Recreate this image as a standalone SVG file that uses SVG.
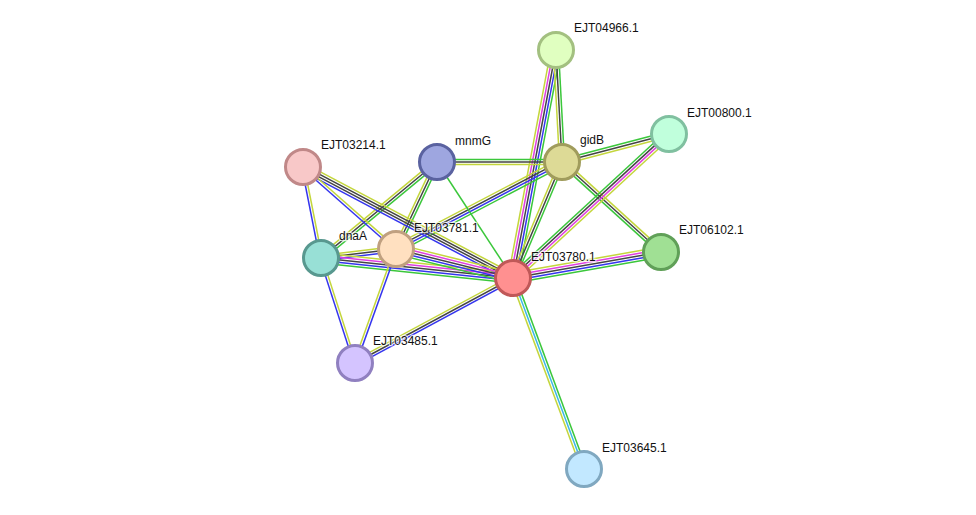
<svg xmlns="http://www.w3.org/2000/svg" width="976" height="515" viewBox="0 0 976 515">
<style>
#edges line{stroke-width:1.5;fill:none}
.g{stroke:#3bc73b}.b{stroke:#3535ee}.k{stroke:#444}.m{stroke:#e040e0}.y{stroke:#c4d63c}.c{stroke:#3bb8e6}
.node circle{stroke-width:3}
.node text{font-family:"Liberation Sans",Arial,sans-serif;font-size:12px;fill:#111;stroke:#fff;stroke-width:2.5;stroke-opacity:0.7;paint-order:stroke}
</style>
<rect width="976" height="515" fill="#fff"/>
<g id="edges">
<g transform="translate(556,50) rotate(100.68)"><line class="g" x2="232" y1="-5" y2="-5"/><line class="b" x2="232" y1="-2.5" y2="-2.5"/><line class="k" x2="232"/><line class="m" x2="232" y1="2.5" y2="2.5"/><line class="y" x2="232" y1="5" y2="5"/></g>
<g transform="translate(556,50) rotate(86.93)"><line class="g" x2="112.2" y1="-2.5" y2="-2.5"/><line class="k" x2="112.2"/><line class="y" x2="112.2" y1="2.5" y2="2.5"/></g>
<g transform="translate(437,162)"><line class="g" x2="125" y1="-2.5" y2="-2.5"/><line class="k" x2="125"/><line class="y" x2="125" y1="2.5" y2="2.5"/></g>
<g transform="translate(562,162) rotate(-14.67)"><line class="g" x2="110.6" y1="-2.5" y2="-2.5"/><line class="k" x2="110.6"/><line class="y" x2="110.6" y1="2.5" y2="2.5"/></g>
<g transform="translate(562,162) rotate(42.27)"><line class="y" x2="133.8" y1="-2.5" y2="-2.5"/><line class="k" x2="133.8"/><line class="g" x2="133.8" y1="2.5" y2="2.5"/></g>
<g transform="translate(669,134) rotate(137.29)"><line class="g" x2="212.3" y1="3.75" y2="3.75"/><line class="k" x2="212.3" y1="1.25" y2="1.25"/><line class="m" x2="212.3" y1="-1.25" y2="-1.25"/><line class="y" x2="212.3" y1="-3.75" y2="-3.75"/></g>
<g transform="translate(661,252) rotate(170.04)"><line class="g" x2="150.3" y1="-5" y2="-5"/><line class="b" x2="150.3" y1="-2.5" y2="-2.5"/><line class="k" x2="150.3"/><line class="m" x2="150.3" y1="2.5" y2="2.5"/><line class="y" x2="150.3" y1="5" y2="5"/></g>
<g transform="translate(562,162) rotate(112.9)"><line class="g" x2="125.9" y1="-2.5" y2="-2.5"/><line class="k" x2="125.9"/><line class="y" x2="125.9" y1="2.5" y2="2.5"/></g>
<g transform="translate(562,162) rotate(152.34)"><line class="g" x2="187.4" y1="-3.75" y2="-3.75"/><line class="b" x2="187.4" y1="-1.25" y2="-1.25"/><line class="k" x2="187.4" y1="1.25" y2="1.25"/><line class="y" x2="187.4" y1="3.75" y2="3.75"/></g>
<line class="g" x1="437" y1="162" x2="513" y2="278"/>
<g transform="translate(437,162) rotate(140.39)"><line class="g" x2="150.6" y1="-2.5" y2="-2.5"/><line class="k" x2="150.6"/><line class="y" x2="150.6" y1="2.5" y2="2.5"/></g>
<g transform="translate(437,162) rotate(115.24)"><line class="g" x2="96.2" y1="-2.5" y2="-2.5"/><line class="k" x2="96.2"/><line class="y" x2="96.2" y1="2.5" y2="2.5"/></g>
<g transform="translate(303,167) rotate(78.81)"><line class="y" x2="92.8" y1="-1.25" y2="-1.25"/><line class="b" x2="92.8" y1="1.25" y2="1.25"/></g>
<g transform="translate(303,167) rotate(27.86)"><line class="y" x2="237.5" y1="-3.75" y2="-3.75"/><line class="k" x2="237.5" y1="-1.25" y2="-1.25"/><line class="k" x2="237.5" y1="1.25" y2="1.25"/><line class="b" x2="237.5" y1="3.75" y2="3.75"/></g>
<g transform="translate(303,167) rotate(41.4)"><line class="y" x2="124" y1="-1.25" y2="-1.25"/><line class="b" x2="124" y1="1.25" y2="1.25"/></g>
<g transform="translate(321,258) rotate(-6.84)"><line class="y" x2="75.5" y1="-2.5" y2="-2.5"/><line class="k" x2="75.5"/><line class="b" x2="75.5" y1="2.5" y2="2.5"/></g>
<g transform="translate(321,258) rotate(5.95)"><line class="y" x2="193" y1="-5" y2="-5"/><line class="m" x2="193" y1="-2.5" y2="-2.5"/><line class="k" x2="193"/><line class="b" x2="193" y1="2.5" y2="2.5"/><line class="g" x2="193" y1="5" y2="5"/></g>
<g transform="translate(396,249) rotate(13.92)"><line class="y" x2="120.5" y1="-5" y2="-5"/><line class="m" x2="120.5" y1="-2.5" y2="-2.5"/><line class="k" x2="120.5"/><line class="b" x2="120.5" y1="2.5" y2="2.5"/><line class="g" x2="120.5" y1="5" y2="5"/></g>
<g transform="translate(321,258) rotate(72.06)"><line class="y" x2="110.4" y1="-1.25" y2="-1.25"/><line class="b" x2="110.4" y1="1.25" y2="1.25"/></g>
<g transform="translate(396,249) rotate(109.78)"><line class="b" x2="121.1" y1="-1.25" y2="-1.25"/><line class="y" x2="121.1" y1="1.25" y2="1.25"/></g>
<g transform="translate(355,363) rotate(-28.28)"><line class="y" x2="179.4" y1="-2.5" y2="-2.5"/><line class="k" x2="179.4"/><line class="b" x2="179.4" y1="2.5" y2="2.5"/></g>
<g transform="translate(513,278) rotate(69.61)"><line class="g" x2="203.8" y1="-2.5" y2="-2.5"/><line class="c" x2="203.8"/><line class="y" x2="203.8" y1="2.5" y2="2.5"/></g>
</g>
<g id="n-EJT04966" class="node"><circle cx="556" cy="50" r="17.5" fill="#e0ffc0" stroke="#a3c080"/><text x="574" y="32">EJT04966.1</text></g>
<g id="n-EJT00800" class="node"><circle cx="669" cy="134" r="17.5" fill="#c0ffdc" stroke="#80c0a0"/><text x="687" y="117">EJT00800.1</text></g>
<g id="n-gidB" class="node"><circle cx="562" cy="162" r="17.5" fill="#ddda96" stroke="#a09c5c"/><text x="580" y="144">gidB</text></g>
<g id="n-mnmG" class="node"><circle cx="437" cy="162" r="17.5" fill="#9ea6e0" stroke="#5a62a0"/><text x="455" y="145">mnmG</text></g>
<g id="n-EJT03214" class="node"><circle cx="303" cy="167" r="17.5" fill="#f8c8c8" stroke="#c08888"/><text x="321" y="149">EJT03214.1</text></g>
<g id="n-dnaA" class="node"><circle cx="321" cy="258" r="17.5" fill="#98e0d6" stroke="#58988f"/><text x="339" y="240">dnaA</text></g>
<g id="n-EJT03781" class="node"><circle cx="396" cy="249" r="17.5" fill="#ffe0c0" stroke="#c0a080"/><text x="414" y="232">EJT03781.1</text></g>
<g id="n-EJT03780" class="node"><circle cx="513" cy="278" r="17.5" fill="#ff9090" stroke="#c05858"/><text x="531" y="261">EJT03780.1</text></g>
<g id="n-EJT06102" class="node"><circle cx="661" cy="252" r="17.5" fill="#a0e094" stroke="#60a058"/><text x="679" y="234">EJT06102.1</text></g>
<g id="n-EJT03485" class="node"><circle cx="355" cy="363" r="17.5" fill="#d4c4ff" stroke="#9080c0"/><text x="373" y="345">EJT03485.1</text></g>
<g id="n-EJT03645" class="node"><circle cx="584" cy="469" r="17.5" fill="#c2e8ff" stroke="#80a8c0"/><text x="602" y="452">EJT03645.1</text></g>
</svg>
